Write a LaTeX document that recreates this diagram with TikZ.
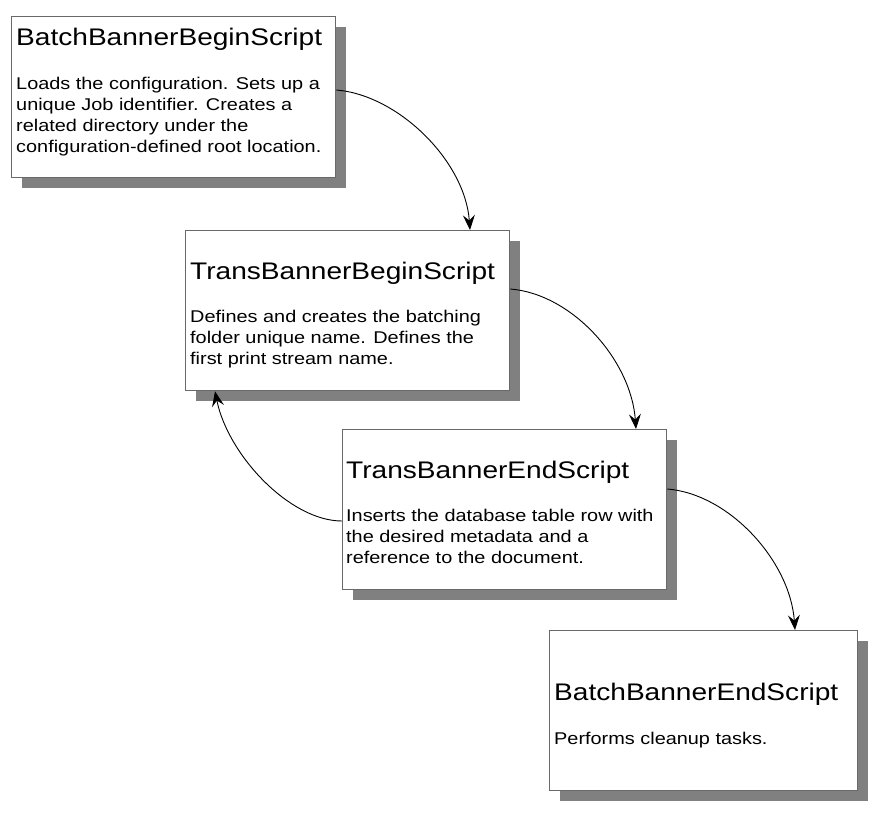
\documentclass[tikz,border=0pt]{standalone}
\usepackage{fontspec}
\setmainfont{Liberation Sans}[FakeStretch=1.17]
\usetikzlibrary{arrows.meta,shadows}
\definecolor{bordergray}{RGB}{105,105,105}
\definecolor{shadowgray}{RGB}{128,128,128}
\tikzset{
  scriptbox/.style={draw=bordergray, line width=1.3pt, fill=white, rectangle, anchor=north west,
    inner sep=0pt, drop shadow={fill=shadowgray, opacity=1, shadow xshift=10pt, shadow yshift=-10pt}},
  boxtitle/.style={anchor=base west, inner sep=0pt, font=\fontsize{24}{28}\selectfont},
  boxbody/.style={anchor=base west, inner sep=0pt, align=left, font=\fontsize{17}{21}\selectfont},
  flow/.style={draw=black, line width=0.9pt, -{Stealth[length=15pt, width=12pt, inset=5.5pt]}}
}
\begin{document}
\begin{tikzpicture}[x=1pt, y=-1pt]
\useasboundingbox (0,0) rectangle (883,816);
\node[scriptbox, minimum width=324pt, minimum height=161pt] (b1) at (11,16) {};
\node[scriptbox, minimum width=324pt, minimum height=160pt] (b2) at (185,230) {};
\node[scriptbox, minimum width=324pt, minimum height=160pt] (b3) at (342,429) {};
\node[scriptbox, minimum width=308pt, minimum height=160pt] (b4) at (549,630) {};

\node[boxtitle] (t1) at (16,46) {BatchBannerBeginScript};
\node[boxbody] (d1) at (16,152) {Loads the configuration. Sets up a\\unique Job identifier. Creates a\\related directory under the\\configuration-defined root location.};

\node[boxtitle] (t2) at (190,279) {TransBannerBeginScript};
\node[boxbody] (d2) at (190,364) {Defines and creates the batching\\folder unique name. Defines the\\first print stream name.};

\node[boxtitle] (t3) at (346,478) {TransBannerEndScript};
\node[boxbody] (d3) at (346,563) {Inserts the database table row with\\the desired metadata and a\\reference to the document.};

\node[boxtitle] (t4) at (554,700) {BatchBannerEndScript};
\node[boxbody] (d4) at (554,744) {Performs cleanup tasks.};

\draw[flow] ([yshift=-74pt]b1.north east) .. controls +(62,5) and +(-5,-69) .. ([xshift=285pt]b2.north west);
\draw[flow] ([yshift=-59pt]b2.north east) .. controls +(62,5) and +(-5,-69) .. ([xshift=294pt]b3.north west);
\draw[flow] ([yshift=-60pt]b3.north east) .. controls +(62,5) and +(-5,-69) .. ([xshift=246pt]b4.north west);
\draw[flow] ([yshift=-92pt]b3.north west) .. controls +(-52,0) and +(13,64) .. ([xshift=30pt]b2.south west);
\end{tikzpicture}
\end{document}
